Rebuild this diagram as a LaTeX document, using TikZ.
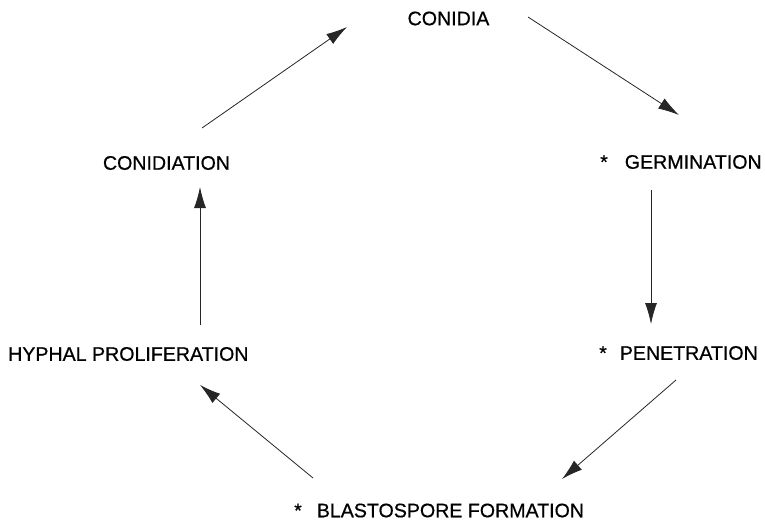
\documentclass[tikz,border=0pt]{standalone}
\usepackage{fontspec}
\setmainfont{Liberation Sans}
\newfontfamily\heavyfont[FakeBold=0.6]{Liberation Sans}
\usetikzlibrary{arrows.meta}
\begin{document}
\begin{tikzpicture}[x=1pt,y=-1pt,
  lbl/.style={inner sep=0pt,font=\heavyfont\fontsize{19.6}{22}\selectfont,text=black},
  flow/.style={draw=black!85,line width=0.8pt,-{Latex[length=21pt,width=12pt]}}]
\useasboundingbox (0,0) rectangle (765,522);
\node[lbl] (conidia) at (448.5,18.5) {CONIDIA};
\node[lbl,anchor=west] (germ) at (600,162) {*\hspace{17pt}GERMINATION};
\node[lbl,anchor=west] (pen) at (599,353) {*\hspace{13pt}PENETRATION};
\node[lbl,anchor=west] (blasto) at (294,510.5) {*\hspace{15pt}BLASTOSPORE FORMATION};
\node[lbl,anchor=west] (hyphal) at (8,354) {HYPHAL PROLIFERATION};
\node[lbl] (conidiation) at (166.5,163) {CONIDIATION};
\coordinate (a1s) at (528,17);   \coordinate (a1e) at (679,115);
\coordinate (a2s) at (651,190);  \coordinate (a2e) at (651,324);
\coordinate (a3s) at (676,380);  \coordinate (a3e) at (562,479);
\coordinate (a4s) at (313,478);  \coordinate (a4e) at (200,385);
\coordinate (a5s) at (200,325);  \coordinate (a5e) at (200,187);
\coordinate (a6s) at (202,128);  \coordinate (a6e) at (347,27);
\draw[flow] (a1s) -- (a1e);
\draw[flow] (a2s) -- (a2e);
\draw[flow] (a3s) -- (a3e);
\draw[flow] (a4s) -- (a4e);
\draw[flow] (a5s) -- (a5e);
\draw[flow] (a6s) -- (a6e);
\end{tikzpicture}
\end{document}
